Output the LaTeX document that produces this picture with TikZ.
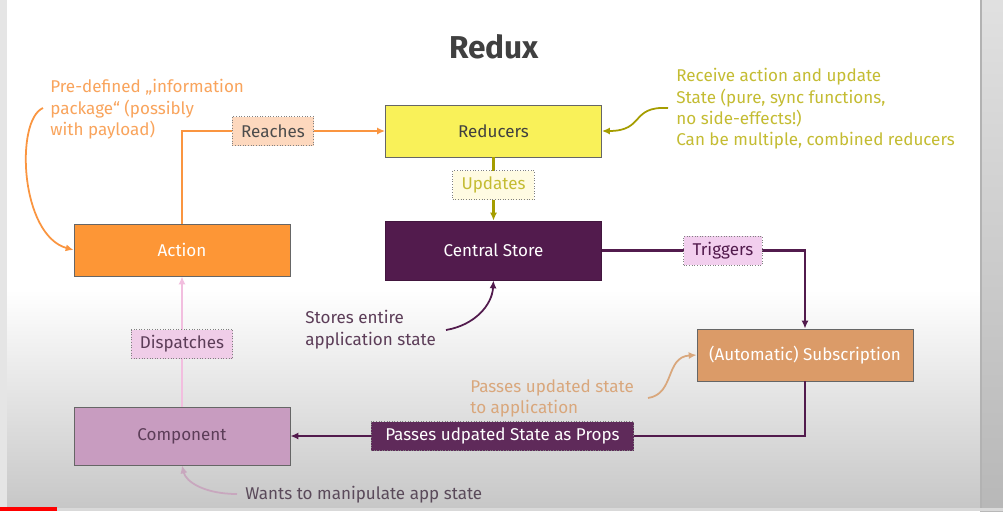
\documentclass[tikz,border=0pt]{standalone}
\usepackage{fontspec}
\setmainfont{Fira Sans}
\usetikzlibrary{arrows.meta}

\definecolor{actOrange}{HTML}{FD9636}
\definecolor{redYellow}{HTML}{F9F159}
\definecolor{storePurple}{HTML}{521B4D}
\definecolor{compLilac}{HTML}{C89CC0}
\definecolor{subOrange}{HTML}{DB9B68}
\definecolor{lnOrange}{HTML}{FA9540}
\definecolor{lnOlive}{HTML}{A59D00}
\definecolor{lnPink}{HTML}{F2BEDF}
\definecolor{lnMauve}{HTML}{C8A7BE}
\definecolor{lblPeach}{HTML}{FDD8BE}
\definecolor{lblCream}{HTML}{FFFBE2}
\definecolor{lblPink}{HTML}{F2CFEE}
\definecolor{lblLilac}{HTML}{F0CDE8}
\definecolor{lblPlum}{HTML}{5F2A5A}
\definecolor{noteOrange}{HTML}{F9A45C}
\definecolor{noteYellow}{HTML}{C4BC32}
\definecolor{notePurple}{HTML}{5C3D58}
\definecolor{noteTan}{HTML}{D9A77C}
\definecolor{noteGrey}{HTML}{5A4A5A}

\begin{document}
\begin{tikzpicture}[x=0.02cm, y=0.02cm, font=\fontsize{9.7}{12.2}\selectfont]
	\tikzset{box/.style={draw=black!60, line width=0.5pt, minimum width=4.32cm, minimum height=1.04cm, inner sep=0pt}};
	\tikzset{lbl/.style={draw=black!50, densely dotted, line width=0.5pt, minimum height=0.58cm, inner xsep=5pt, inner ysep=0pt}};
	\tikzset{note/.style={align=left, anchor=north west, inner sep=0pt}};
	\tikzset{link/.style={-{Latex[length=4.5pt,width=4pt]}, line width=1.2pt}};
	\tikzset{hint/.style={-{Latex[length=4.5pt,width=4pt]}, line width=1pt}};

	% slide background
	\useasboundingbox (0,0) rectangle (1003,-511);
	\fill[white] (0,0) rectangle (1003,-511);
	\shade[top color=white, bottom color=black!22] (0,-290) rectangle (980,-508);
	\fill[black!10] (0,0) rectangle (7,-511);
	\shade[top color=black!12, bottom color=black!28] (980,0) rectangle (1003,-511);
	\fill[black!30] (980,0) rectangle (982,-511);
	\fill[black!15] (0,-508) rectangle (1003,-511);
	\fill[red] (0,-507) rectangle (57,-511);

	\node[font=\fontsize{18}{21}\selectfont\bfseries, text=black!75] (title) at (494,-47) {Redux};

	\node[box, fill=redYellow, text=black!75] (reducers) at (493.5,-131) {Reducers};
	\node[box, fill=storePurple, draw=storePurple!80!black, text=white, minimum height=1.18cm] (store) at (493.5,-250.5) {Central Store};
	\node[box, fill=actOrange, text=white] (action) at (182,-250) {Action};
	\node[box, fill=compLilac, text=notePurple, minimum height=1.16cm] (component) at (182,-436) {Component};
	\node[box, fill=subOrange, text=white] (subscr) at (805,-355) {(Automatic) Subscription};

	\draw[link, lnOrange] (action) |- node[lbl, fill=lblPeach, text=black!70, pos=0.724] (reaches) {Reaches} (reducers);
	\draw[link, lnOlive] (reducers) -- node[lbl, fill=lblCream, text=noteYellow, pos=0.44] (updates) {Updates} (store);
	\draw[link, storePurple] (store) -| node[lbl, fill=lblPink, text=storePurple, pos=0.298] (triggers) {Triggers} (subscr);
	\draw[link, storePurple] (subscr) |- node[lbl, fill=lblPlum, text=white, pos=0.794, inner xsep=8pt] (passes) {Passes udpated State as Props} (component);
	\draw[link, lnPink] (component) -- node[lbl, fill=lblLilac, text=notePurple, pos=0.48] (dispatches) {Dispatches} (action);

	% notes
	\node[note, text=noteOrange] (predef) at (50,-79) {Pre-defined „information\\package“ (possibly\\with payload)};
	\node[note, text=noteYellow] (receive) at (676,-68) {Receive action and update\\State (pure, sync functions,\\no side-effects!)\\Can be multiple, combined reducers};
	\node[note, text=notePurple] (stores) at (305,-310) {Stores entire\\application state};
	\node[note, text=noteTan] (passnote) at (470,-379) {Passes updated state\\to application};
	\node[note, text=noteGrey] (wants) at (245,-486) {Wants to manipulate app state};

	\coordinate (predefTail) at (43,-108);
	\coordinate (receiveTail) at (668,-108);
	\coordinate (storesTail) at (446,-330);
	\coordinate (passTail) at (648,-398);
	\coordinate (wantsTail) at (237,-494);

	\draw[hint, lnOrange] (predefTail) .. controls (15,-120) and (20,-235) .. (action.west);
	\draw[hint, lnOlive] (receiveTail) .. controls (630,-106) and (645,-131) .. (reducers.east);
	\draw[hint, storePurple] (storesTail) .. controls (475,-325) and (492,-305) .. (store.south);
	\draw[hint, noteTan] (passTail) .. controls (675,-394) and (665,-357) .. (subscr.west);
	\draw[hint, lnMauve] (wantsTail) .. controls (205,-494) and (186,-482) .. (component.south);
\end{tikzpicture}
\end{document}
